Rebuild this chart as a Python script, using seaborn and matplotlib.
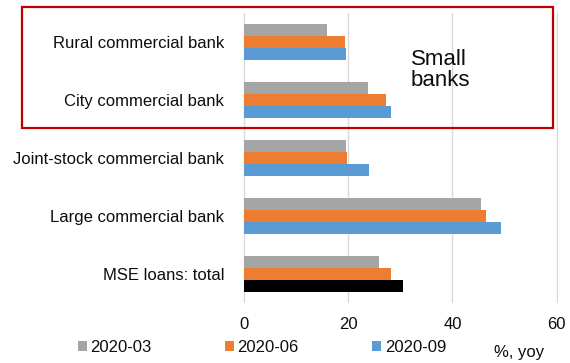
import matplotlib
matplotlib.use("Agg")
import matplotlib.pyplot as plt
from matplotlib.patches import Patch, Rectangle
import seaborn as sns
import pandas as pd

# Loan growth of micro and small enterprises by bank type, % yoy
categories = [
    "Rural commercial bank",
    "City commercial bank",
    "Joint-stock commercial bank",
    "Large commercial bank",
    "MSE loans: total",
]
periods = ["2020-03", "2020-06", "2020-09"]
growth_2020_03 = [15.9, 23.7, 19.6, 45.4, 25.9]
growth_2020_06 = [19.4, 27.2, 19.8, 46.4, 28.3]
growth_2020_09 = [19.5, 28.3, 23.9, 49.3, 30.6]
x_ticks = [0, 20, 40, 60]

colors = {"2020-03": "#a5a5a5", "2020-06": "#ed7d31", "2020-09": "#5b9bd5"}
total_highlight = "#000000"

df = pd.DataFrame({
    "category": categories * 3,
    "period": [p for p in periods for _ in categories],
    "value": growth_2020_03 + growth_2020_06 + growth_2020_09,
})

sns.set_style("white")
plt.rcParams["font.family"] = ["Liberation Sans", "DejaVu Sans"]
text_color = "#0d0d0d"

W, H = 570, 363
fig = plt.figure(figsize=(W / 100, H / 100), dpi=100)
left_px, right_px, top_px, bottom_px = 243.0, 557.7, 13.0, 303.0
ax = fig.add_axes([left_px / W, (H - bottom_px) / H,
                   (right_px - left_px) / W, (bottom_px - top_px) / H])

sns.barplot(data=df, x="value", y="category", hue="period",
            order=categories, hue_order=periods, palette=colors,
            orient="h", width=0.62, linewidth=0, saturation=1,
            legend=False, ax=ax)

# highlight the total MSE bar of the latest period
last_bars = ax.containers[2]
last_bars.patches[categories.index("MSE loans: total")].set_facecolor(total_highlight)

ax.set_xlim(-0.2, 60.2)
ax.set_xticks(x_ticks)
ax.set_xticklabels([str(t) for t in x_ticks])
ax.set_xlabel("")
ax.set_ylabel("")
for s in ax.spines.values():
    s.set_visible(False)
ax.xaxis.grid(True, color="#d9d9d9", linewidth=1.0)
ax.yaxis.grid(False)
ax.set_axisbelow(True)
ax.tick_params(axis="y", length=0, pad=13.5, labelsize=12, labelcolor=text_color)
ax.tick_params(axis="x", length=0, pad=10, labelsize=12, labelcolor=text_color)

# box around the small banks
fig.patches.append(Rectangle((21.5 / W, (H - 128.3) / H), (553 - 21.5) / W, (128.3 - 7.3) / H,
                             transform=fig.transFigure, fill=False,
                             edgecolor="#c00000", linewidth=1.6))
fig.text(411 / W, (H - 70) / H, "Small\nbanks", fontsize=16, color=text_color,
         ha="left", va="center", multialignment="left", linespacing=1.0)

handles = [Patch(facecolor=colors[p], edgecolor="none") for p in periods]
fig.legend(handles, periods, loc="center left",
           bbox_to_anchor=(78 / W, (H - 347.5) / H), ncol=3, frameon=False,
           fontsize=12, handlelength=0.55, handleheight=0.55, handletextpad=0.2,
           columnspacing=4.4, borderaxespad=0, borderpad=0, labelcolor=text_color)
fig.text(494 / W, (H - 352) / H, "%, yoy", fontsize=12, color=text_color,
         ha="left", va="center")

fig.savefig("out.png", dpi=100)
